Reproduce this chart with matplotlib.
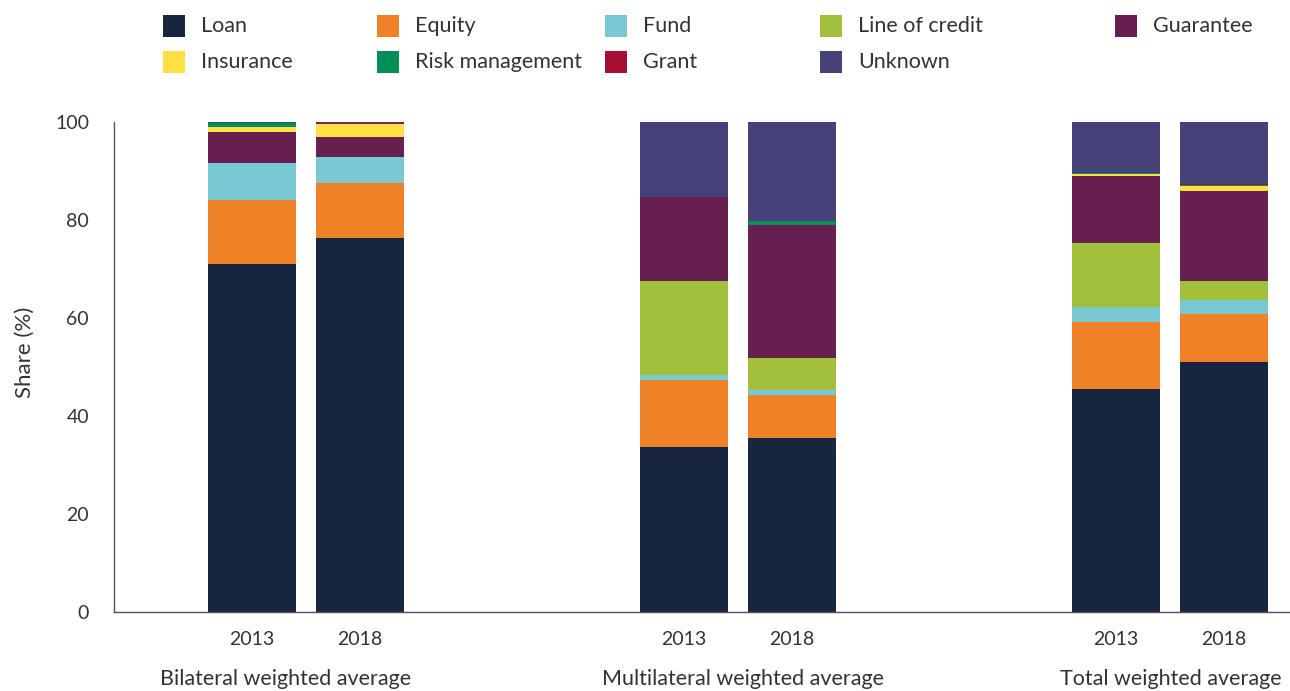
import numpy as np
import matplotlib
matplotlib.use("Agg")
import matplotlib.pyplot as plt
from matplotlib.patches import Rectangle

plt.rcParams['font.family'] = ['Lato', 'DejaVu Sans']

groups = ["Bilateral weighted average", "Multilateral weighted average", "Total weighted average"]
years = ["2013", "2018"]
types = ["Loan", "Equity", "Fund", "Line of credit", "Guarantee",
         "Insurance", "Risk management", "Grant", "Unknown"]
colors = ["#18253F", "#EF8126", "#7AC8D3", "#A3C03D", "#671F50",
          "#FFE043", "#008F57", "#A50E2F", "#45427A"]

# one value per bar: bil 2013, bil 2018, mul 2013, mul 2018, tot 2013, tot 2018
loan = [71.0, 76.3, 33.7, 35.5, 45.5, 51.0]
equity = [13.1, 11.3, 13.6, 8.8, 13.7, 9.9]
fund = [7.5, 5.3, 1.1, 1.1, 3.0, 2.8]
line_of_credit = [0.0, 0.0, 19.2, 6.4, 13.1, 3.9]
guarantee = [6.4, 4.0, 17.1, 27.2, 13.7, 18.3]
insurance = [1.0, 2.7, 0.0, 0.0, 0.4, 1.0]
risk_management = [0.8, 0.0, 0.0, 0.7, 0.2, 0.2]
grant = [0.0, 0.2, 0.0, 0.0, 0.0, 0.2]
unknown = [0.2, 0.2, 15.3, 20.5, 10.4, 12.7]

series = [loan, equity, fund, line_of_credit, guarantee,
          insurance, risk_management, grant, unknown]

fig = plt.figure(figsize=(12.9, 6.91), dpi=100)
ax = fig.add_axes([0.0884, 0.1143, 0.9116, 0.7091])

centers = np.arange(len(groups))
off = 0.125
xpos = np.array([[c - off, c + off] for c in centers]).ravel()
bottom = np.zeros(len(xpos))
for vals, col in zip(series, colors):
    ax.bar(xpos, vals, width=0.204, bottom=bottom, color=col, linewidth=0)
    bottom += np.array(vals)

ax.set_xlim(-0.444, 2.278)
ax.set_ylim(0, 100)
ax.set_yticks([0, 20, 40, 60, 80, 100])
ax.set_yticklabels(["0", "20", "40", "60", "80", "100"])
ax.tick_params(axis='y', length=0, pad=18, labelsize=14, labelcolor="#333333")
ax.set_xticks(xpos)
ax.set_xticklabels(years * 3)
ax.tick_params(axis='x', length=0, pad=14, labelsize=14, labelcolor="#333333")
for s in ["top", "right"]:
    ax.spines[s].set_visible(False)
for s in ["left", "bottom"]:
    ax.spines[s].set_color("#555555")
    ax.spines[s].set_linewidth(1)
ax.set_ylabel("Share (%)", fontsize=16, color="#333333")
ax.yaxis.set_label_coords(-0.067, 0.53)

# group labels sit a little off the bar-pair centres in the original
label_shift = [-0.046, 0.012, 0.002]
for c, g, d in zip(centers, groups, label_shift):
    ax.text(c + d, -13.6, g, ha="center", va="center", fontsize=15.5, color="#333333")

# legend
leg_x = [163, 377, 605, 820, 1115]
leg_y = [26, 62]
W, H = 1290.0, 691.0
for i, (name, col) in enumerate(zip(types, colors)):
    r, k = divmod(i, 5)
    x0, y0 = leg_x[k], leg_y[r]
    fig.add_artist(Rectangle((x0 / W, 1 - (y0 + 11) / H), 22 / W, 22 / H,
                             transform=fig.transFigure, color=col, lw=0))
    fig.text((x0 + 38) / W, 1 - y0 / H, name, ha="left", va="center",
             fontsize=15.5, color="#333333")

fig.savefig("out.png", dpi=100)
